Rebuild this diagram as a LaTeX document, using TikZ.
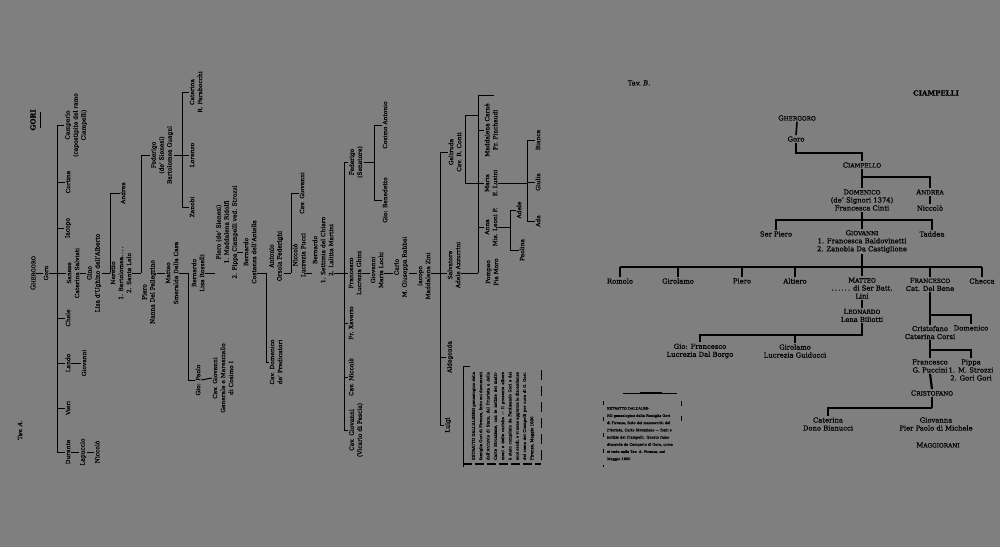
\documentclass[tikz,border=0pt]{standalone}
\usepackage{fontspec}
\setmainfont{DejaVu Serif}[FakeBold=0.6]
\definecolor{bg}{RGB}{127,127,127}
\newcommand{\scl}[2]{#1{\fontsize{5.2}{8}\selectfont #2}}
\newcommand{\scr}[2]{#1{\fontsize{5.8}{8}\selectfont #2}}
\begin{document}
\begin{tikzpicture}[x=1pt,y=-1pt,
  every node/.style={inner sep=0.5pt, align=center, text=black},
  L/.style={rotate=90, font=\fontsize{5.9}{8}\selectfont},
  R/.style={font=\fontsize{6.8}{8}\selectfont}]
\fill[bg] (0,0) rectangle (1000,547);
\useasboundingbox (0,0) rectangle (1000,547);

% ================= TAV. A =================
\begin{scope}[line width=1pt]
\node[L, font=\fontsize{7}{8}\selectfont\bfseries] (gori) at (33,120) {GORI};
\draw ([shift={(4,-8)}]gori.south) -- ++(0,16);
\node[L, font=\fontsize{6}{8}\selectfont] (tavA) at (20,430) {Tav.\ \textit{A.}};
\node[L, font=\fontsize{6.4}{8}\selectfont] (ghergoroA) at (33,273) {\scl{G}{HERGORO}};
\node[L] (goroA) at (46,273) {Goro};
\draw (ghergoroA.south) -- (goroA.north);
\coordinate (trA) at (57,0);
\coordinate (ml) at (0,273);
\draw (goroA.south) -- (goroA.south -| trA);
\node[L] (camperlo) at (76,125) {Camperlo\\(capostipite del ramo\\Ciampelli)};
\node[L] (cortina) at (68,182) {Cortina};
\node[L] (iacopo) at (68,228) {Iacopo};
\node[L] (sanese) at (73,273) {Sanese\\Caterina Salviati};
\node[L] (chele) at (68,318) {Chele};
\node[L] (lando) at (68,363) {Lando};
\node[L] (vieri) at (68,408) {Vieri};
\node[L] (durante) at (68,452) {Durante};
\draw (camperlo.north -| trA) -- (durante.north -| trA);
\foreach \n in {camperlo,cortina,iacopo,sanese,chele,lando,vieri,durante}
  \draw (\n.north) -- (\n.north -| trA);
\node[L] (giovanniA) at (84,363) {Giovanni};
\draw (lando.south) -- (giovanniA.north);
\node[L] (lapuccio) at (83,452) {Lapuccio};
\node[L] (niccoloA) at (97,452) {Niccolò};
\draw (durante.south) -- (lapuccio.north);
\draw (lapuccio.south) -- (niccoloA.north);

\node[L] (gino) at (94,273) {Gino\\Lisa d'Ughino dell'Alberto};
\draw (sanese.south) -- (gino.north);
\coordinate (brG) at (110,0);
\node[L] (andreaA) at (123,193) {Andrea};
\node[L] (neretto) at (121,273) {Neretto\\1. Bartolomea.\,.\,.\,.\\2. Santa Lelo};
\draw (gino.south) -- (gino.south -| brG);
\draw (andreaA.north -| brG) -- (gino.south -| brG);
\draw (andreaA.north) -- (andreaA.north -| brG);

\coordinate (brN) at (141,0);
\node[L] (federigo) at (162,155) {Federigo\\(de' Sienesi)\\Bartolomea Guagni};
\node[L] (pieroA) at (149,292) {Piero\\Nanna Del Pellegrino};
\draw (neretto.south) -- (neretto.south -| brN);
\draw (federigo.north -| brN) -- (neretto.south -| brN);
\draw (federigo.north) -- (federigo.north -| brN);
\node[L] (matteoA) at (172,273) {Matteo\\Smeralda Della Casa};
\draw (matteoA.north) -- (matteoA.north -| pieroA.south);

\coordinate (brF) at (182,0);
\node[L] (caterinaA) at (196,92) {Caterina\\R. Farabocchi};
\node[L] (lorenzo) at (192,155) {Lorenzo};
\node[L] (zanobi) at (192,207) {Zanobi};
\draw (federigo.south) -- (federigo.south -| brF);
\draw (caterinaA.north -| brF) -- (zanobi.north -| brF);
\foreach \n in {caterinaA,lorenzo,zanobi} \draw (\n.north) -- (\n.north -| brF);

\coordinate (brM) at (188,0);
\node[L] (bernardoA) at (198,273) {Bernardo\\Lisa Rosselli};
\node[L] (gioPaolo) at (198,380) {Gio: Paolo};
\draw (matteoA.south) -- (matteoA.south -| brM);
\draw (bernardoA.north -| brM) -- (gioPaolo.north -| brM);
\draw (gioPaolo.north) -- (gioPaolo.north -| brM);
\node[L] (cavGiovA) at (223,378) {Cav. Giovanni\\Generale e Maresciallo\\di Cosimo I};
\draw (gioPaolo.south) -- (cavGiovA.north);

\node[L] (pieroB) at (227,232) {Piero (de' Sienesi)\\1. Maddalena Ridolfi\\2. Pippa Ciampelli ved. Strozzi};
\draw (bernardoA.south) -- (bernardoA.south -| pieroB.north);
\node[L] (bernardoB) at (250,252) {Bernardo\\Costanza dell'Antella};
\draw (bernardoB.north) -- ++(-6,0);

\coordinate (brB) at (266,0);
\node[L] (antonio) at (276,256) {Antonio\\Orsola Federighi};
\node[L] (domenicoA) at (276,362) {Cav. Domenico\\de' Predicatori};
\draw (bernardoB.south |- ml) -- (brB |- ml);
\draw (brB |- ml) -- (domenicoA.north -| brB);
\draw (domenicoA.north) -- (domenicoA.north -| brB);

\coordinate (brA) at (291,0);
\node[L] (niccoloB) at (299,255) {Niccolò\\Lucrezia Pucci};
\node[L] (cavGiovB) at (302,193) {Cav. Giovanni};
\draw (antonio.south |- ml) -- (brA |- ml);
\draw (brA |- ml) -- (cavGiovB.north -| brA);
\draw (cavGiovB.north) -- (cavGiovB.north -| brA);

\node[L] (bernardoC) at (323,250) {Bernardo\\1. Settimia del Chiaro\\2. Lalitta Martini};
\draw (niccoloB.south |- ml) -- (bernardoC.north |- ml);

\coordinate (brBc) at (344,0);
\node[L] (federigoS) at (356,162) {Federigo\\(Senatore)};
\node[L] (francescoA) at (355,273) {Francesco\\Lucrezia Ghini};
\node[L] (frXav) at (351,323) {Fr. Xaverio};
\node[L] (cavNic) at (351,377) {Cav. Niccolò};
\node[L] (cavGiovC) at (356,430) {Cav. Giovanni\\(Vicario di Pescia)};
\draw (bernardoC.south |- ml) -- (brBc |- ml);
\draw (federigoS.north -| brBc) -- (cavGiovC.north -| brBc);
\foreach \n in {federigoS,francescoA,frXav,cavNic,cavGiovC} \draw (\n.north) -- (\n.north -| brBc);

\coordinate (brFS) at (374,0);
\node[L] (cosimoAnt) at (385,125) {Cosimo Antonio};
\node[L] (gioBen) at (385,200) {Gio: Benedetto};
\draw (federigoS.south) -- (federigoS.south -| brFS);
\draw (cosimoAnt.north -| brFS) -- (gioBen.north -| brFS);
\foreach \n in {cosimoAnt,gioBen} \draw (\n.north) -- (\n.north -| brFS);

\node[L] (giovanniB) at (377,270) {Giovanni\\Maria Lochi};
\draw (francescoA.south) -- (francescoA.south -| giovanniB.north);
\node[L] (carlo) at (401,267) {Carlo\\M. Giuseppa Rabbei};
\draw (giovanniB.south |- ml) -- (carlo.north |- ml);
\node[L] (iacopoB) at (424,276) {Iacopo\\Maddalena Zini};
\draw (carlo.south |- ml) -- (iacopoB.north |- ml);

\coordinate (brI) at (440,0);
\node[L] (geltruda) at (455,152) {Geltruda\\Cav. R. Conti};
\node[L] (salvatore) at (454,265) {Salvatore\\Adele Azzurrini};
\node[L] (aldegonda) at (450,357) {Aldegonda};
\node[L] (luigi) at (448,425) {Luigi};
\draw (iacopoB.south |- ml) -- (brI |- ml);
\draw (geltruda.north -| brI) -- (luigi.north -| brI);
\foreach \n in {geltruda,aldegonda,luigi} \draw (\n.north) -- (\n.north -| brI);
\draw (salvatore.north |- ml) -- (brI |- ml);

\coordinate (brS) at (478,0);
\coordinate (brX) at (465,0);
\coordinate (yt) at (0,95);
\coordinate (yq) at (0,115);
\node[L] (maddalena) at (491,130) {Maddalena Carnè\\Fr. Pinchaudi};
\node[L] (maria) at (491,183) {Maria\\E. Lusini};
\node[L] (anna) at (491,227) {Anna\\Mis. Leoni P.};
\node[L] (pompeo) at (492,272) {Pompeo\\Pia Moro};
\draw (salvatore.south |- ml) -- (brS |- ml);
\draw (brS |- yt) -- (brS |- ml);
\draw (brS |- yt) -- ++(16,0);
\foreach \n in {maddalena,maria,anna} \draw (\n.north) -- (\n.north -| brS);
\draw (brS |- yq) -- (brX |- yq) -- (brX |- maria.north) -- (brS |- maria.north);

\coordinate (brAn) at (510,0);
\node[L] (adele) at (519,210) {Adele};
\node[L] (paolina) at (522,250) {Paolina};
\draw (anna.south) -- (anna.south -| brAn);
\draw (adele.north -| brAn) -- (paolina.north -| brAn);
\foreach \n in {adele,paolina} \draw (\n.north) -- (\n.north -| brAn);

\coordinate (brMa) at (527,0);
\node[L] (bianca) at (538,140) {Bianca};
\node[L] (giulia) at (538,182) {Giulia};
\node[L] (ada) at (538,221) {Ada};
\draw (maria.south) -- (maria.south -| brMa);
\draw (bianca.north -| brMa) -- (ada.north -| brMa);
\foreach \n in {bianca,giulia,ada} \draw (\n.north) -- (\n.north -| brMa);

% note box A
\node[rotate=90, font=\fontsize{3.9}{7.3}\selectfont, text width=88pt, align=justify, inner sep=0] (noteA) at (503,416)
 {ESTRATTO DALL'AL\-BERO genealogico della famiglia Gori di Firenze, fatto sui documenti dell'Archivio di Stato, del Priorista e delle Carte Strozziane, con le notizie dei matrimoni e delle cariche — Il presente albero è stato compilato da Ferdinando Gori e dai suoi eredi, e vi sono aggiunte le discendenze del ramo dei Ciampelli per cura di G. Gori. Firenze, Maggio 1890};
\draw (463,366) -- (463,467);
\draw (463,366) -- (470,366);
\draw[line width=1.4pt, dash pattern=on 9pt off 3pt] (463,464) -- (541,464);
\draw[dash pattern=on 10pt off 6pt] (541,370) -- (541,462);
\end{scope}

% ================= TAV. B =================
\begin{scope}[line width=1.6pt]
\node[R] (tavB) at (639,83) {Tav.\ \textit{B.}};
\node[R, font=\fontsize{7}{8}\selectfont\bfseries] (ciamp) at (936,93) {CIAMPELLI};
\node[R] (ghB) at (797,118) {\scr{G}{HERGORO}};
\node[R] (goroB) at (796,139) {Goro};
\draw (ghB.south) -- (goroB.north);
\node[R] (ciampello) at (862,165) {\scr{C}{IAMPELLO}};
\coordinate (yb1) at (0,153);
\draw (goroB.south) -- (goroB.south |- yb1) -- (ciampello.north |- yb1) -- (ciampello.north);
\node[R] (domenicoB) at (862,200) {\scr{D}{OMENICO}\\(de' Signori 1374)\\Francesca Cinti};
\node[R] (andreaB) at (930,192) {\scr{A}{NDREA}};
\node[R] (niccB) at (930,208) {Niccolò};
\draw (ciampello.south) -- (domenicoB.north);
\coordinate (yb2) at (0,177);
\draw (ciampello.south |- yb2) -- (andreaB.north |- yb2) -- (andreaB.north);
\draw (andreaB.south) -- (niccB.north);

\node[R] (serpiero) at (776,234) {Ser Piero};
\node[R] (giovB) at (862,241.5) {\scr{G}{IOVANNI}\\1. Francesca Baldovinetti\\2. Zanobia Da Castiglione};
\node[R] (taddea) at (932,234) {Taddea};
\coordinate (yb3) at (0,220);
\draw (domenicoB.south) -- (giovB.north);
\draw (serpiero.north) -- (serpiero.north |- yb3) -- (taddea.north |- yb3) -- (taddea.north);

\node[R] (romolo) at (620,281) {Romolo};
\node[R] (girolamoB) at (678,281) {Girolamo};
\node[R] (pieroC) at (742,281) {Piero};
\node[R] (altiero) at (795,281) {Altiero};
\node[R] (matteoB) at (862,288) {\scr{M}{ATTEO}\\.\,.\,.\,.\,.\,. di Ser Batt.\\Lini};
\node[R] (francescoB) at (930,284.5) {\scr{F}{RANCESCO}\\Cat. Del Bene};
\node[R] (checca) at (982,281) {Checca};
\coordinate (yb4) at (0,267);
\draw (giovB.south) -- (matteoB.north);
\draw (romolo.north |- yb4) -- (checca.north |- yb4);
\foreach \n in {romolo,girolamoB,pieroC,altiero,francescoB,checca} \draw (\n.north) -- (\n.north |- yb4);

\node[R] (leonardo) at (862,315.5) {\scr{L}{EONARDO}\\Lena Biliotti};
\draw (matteoB.south) -- (leonardo.north);
\node[R] (giofr) at (700,351) {Gio: Francesco\\Lucrezia Dal Borgo};
\node[R] (girol2) at (795,351) {Girolamo\\Lucrezia Guiducci};
\coordinate (yb5) at (0,335);
\draw (leonardo.south) -- (leonardo.south |- yb5) -- (giofr.north |- yb5) -- (giofr.north);
\draw (girol2.north) -- (girol2.north |- yb5);

\node[R] (cristof) at (930,332.5) {Cristofano\\Caterina Corsi};
\node[R] (domenico2) at (971,328) {Domenico};
\coordinate (yb6) at (0,315);
\draw (francescoB.south) -- (cristof.north);
\draw (francescoB.south |- yb6) -- (domenico2.north |- yb6) -- (domenico2.north);

\node[R] (francesco2) at (930,366) {Francesco\\G. Puccini};
\node[R] (pippa) at (971,370) {Pippa\\1. M. Strozzi\\2. Gori Gori};
\coordinate (yb7) at (0,350);
\draw (cristof.south) -- (francesco2.north);
\draw (cristof.south |- yb7) -- (pippa.north |- yb7) -- (pippa.north);

\node[R] (cristof2) at (932,393) {\scr{C}{RISTOFANO}};
\draw[line width=2.2pt] (francesco2.south) -- (cristof2.north);
\node[R] (caterinaB) at (828,424) {Caterina\\Dono Bianucci};
\node[R] (giovanna) at (936,424) {Giovanna\\Pier Paolo di Michele};
\node[R] (magg) at (938,445) {\scr{M}{AGGIORANI}};
\coordinate (yb8) at (0,408);
\draw (cristof2.south) -- (cristof2.south |- yb8);
\draw (caterinaB.north) -- (caterinaB.north |- yb8) -- (cristof2.south |- yb8);

% note box B
\node[font=\fontsize{3.5}{7.2}\selectfont, text width=66pt, align=left, inner sep=0] (noteB) at (640,434)
 {ESTRATTO DALL'AL\-BE-\\RO genealogico della Famiglia Gori di Firenze, fatto dai manoscritti del Priorista, Carte Strozziane — fonti e notizie dei Ciampelli. Questo ramo discende da Camperlo di Goro, come si vede nella Tav. A. Firenze, nel Maggio 1890};
\draw[line width=0.8pt] (623,393) -- (677,393);
\draw[line width=1.6pt] (640,393) -- (662,393);
\draw[line width=0.8pt, dash pattern=on 4pt off 12pt] (603,401) -- (603,467);
\draw[line width=0.8pt, dash pattern=on 5pt off 10pt] (681,401) -- (681,425);
\end{scope}
\end{tikzpicture}
\end{document}
